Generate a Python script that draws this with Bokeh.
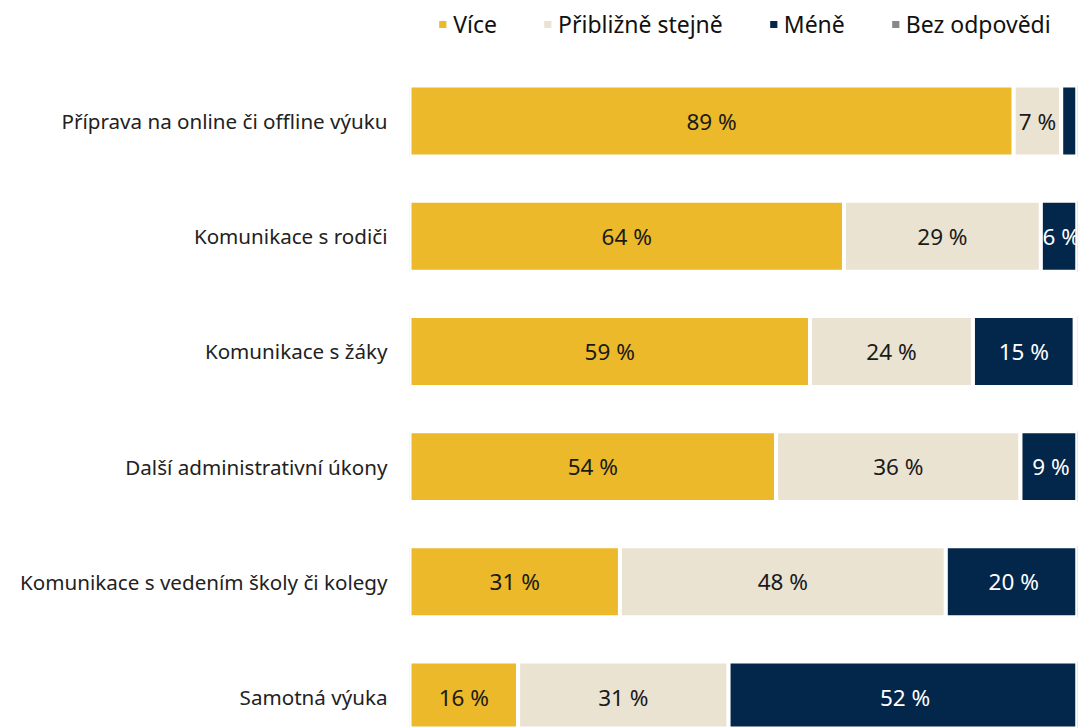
from bokeh.plotting import figure
from bokeh.models import ColumnDataSource, Range1d, FixedTicker, Legend, LegendItem
from bokeh.core.properties import value
from bokeh.embed import file_html
from bokeh.resources import INLINE

categories = [
    "Příprava na online či offline výuku",
    "Komunikace s rodiči",
    "Komunikace s žáky",
    "Další administrativní úkony",
    "Komunikace s vedením školy či kolegy",
    "Samotná výuka",
]
series_names = ["Více", "Přibližně stejně", "Méně", "Bez odpovědi"]
vice = [89, 64, 59, 54, 31, 16]
stejne = [7, 29, 24, 36, 48, 31]
mene = [3, 6, 15, 9, 20, 52]
bez = [1, 1, 2, 1, 1, 1]
colors = ["#EBB929", "#EAE3D2", "#03264B", "#888888"]
label_colors = ["#1a1a1a", "#1a1a1a", "#ffffff", "#ffffff"]

FONT = "Noto Sans"

ypos = list(range(len(categories)))
source = ColumnDataSource(dict(y=ypos, vice=vice, stejne=stejne, mene=mene, bez=bez))

p = figure(width=1079, height=728, output_backend="svg", toolbar_location=None,
           x_range=Range1d(0, 98.4), y_range=Range1d(5.273, -1.046),
           min_border_left=409, min_border_right=2, min_border_top=0, min_border_bottom=0)
p.outline_line_color = None
p.xgrid.visible = False
p.ygrid.visible = False
p.xaxis.visible = False
p.background_fill_color = "white"
p.border_fill_color = "white"

renderers = p.hbar_stack(["vice", "stejne", "mene", "bez"], y="y", height=0.616,
                         color=colors, line_color="white", line_width=4, source=source)

# segment labels
series = [vice, stejne, mene, bez]
for si, vals in enumerate(series):
    xs, ys, txt = [], [], []
    for i, v in enumerate(vals):
        start = sum(series[k][i] for k in range(si))
        if v >= 5:
            xs.append(start + v / 2)
            ys.append(i)
            txt.append(f"{v} %")
    p.text(x=xs, y=ys, text=txt, text_align="center", text_baseline="middle",
           text_font=value(FONT), text_font_size="22.5px", text_color=label_colors[si])

yax = p.yaxis[0]
yax.ticker = FixedTicker(ticks=ypos)
yax.major_label_overrides = {i: c for i, c in enumerate(categories)}
yax.axis_line_color = None
yax.major_tick_line_color = None
yax.minor_tick_line_color = None
yax.major_label_text_font = FONT
yax.major_label_text_font_size = "20.6px"
yax.major_label_text_color = "#222222"
yax.major_label_standoff = 16

legend = Legend(items=[LegendItem(label=n, renderers=[r]) for n, r in zip(series_names, renderers)],
                orientation="horizontal", location="top_center")
legend.background_fill_alpha = 0
legend.border_line_alpha = 0
legend.glyph_width = 14
legend.glyph_height = 14
legend.label_standoff = 4
legend.spacing = 43
legend.padding = 0
legend.margin = 8
legend.label_text_font = FONT
legend.label_text_font_size = "23px"
legend.label_text_color = "#111111"
legend.label_height = 28
p.add_layout(legend, "center")

open("out.html", "w").write(file_html(p, INLINE))
